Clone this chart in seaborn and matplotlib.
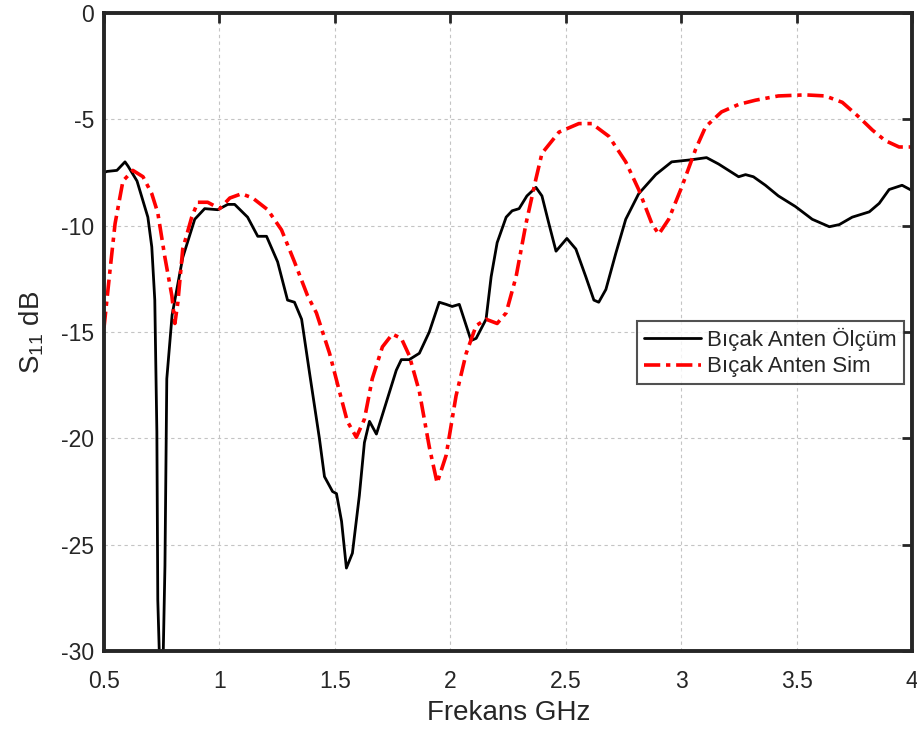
import matplotlib
matplotlib.use("Agg")
import matplotlib.pyplot as plt
import seaborn as sns
import pandas as pd

# Measured S11 of the blade antenna
freq_meas = [0.500, 0.513, 0.556, 0.591, 0.604, 0.643, 0.690, 0.707, 0.720, 0.729,
             0.733, 0.742, 0.755, 0.764, 0.772, 0.795, 0.841, 0.893, 0.936, 0.993,
             1.036, 1.066, 1.122, 1.166, 1.204, 1.252, 1.295, 1.325, 1.356, 1.390,
             1.433, 1.455, 1.490, 1.507, 1.529, 1.550, 1.576, 1.606, 1.628, 1.650,
             1.680, 1.723, 1.766, 1.788, 1.822, 1.866, 1.909, 1.952, 1.982, 2.008,
             2.039, 2.090, 2.112, 2.155, 2.177, 2.203, 2.242, 2.268, 2.298, 2.332,
             2.371, 2.397, 2.427, 2.458, 2.505, 2.544, 2.587, 2.622, 2.643, 2.674,
             2.717, 2.760, 2.816, 2.890, 2.959, 3.045, 3.110, 3.162, 3.249, 3.279,
             3.313, 3.365, 3.421, 3.495, 3.568, 3.642, 3.685, 3.741, 3.815, 3.858,
             3.901, 3.957, 4.000]
s11_meas = [-7.5, -7.45, -7.4, -7.0, -7.2, -7.9, -9.6, -11.0, -13.5, -19.7,
            -27.6, -31.0, -31.0, -26.0, -17.2, -14.2, -11.5, -9.7, -9.2, -9.25,
            -9.0, -9.0, -9.6, -10.5, -10.5, -11.7, -13.5, -13.6, -14.4, -16.9,
            -20.0, -21.8, -22.5, -22.6, -23.9, -26.1, -25.4, -22.7, -20.2, -19.2,
            -19.8, -18.3, -16.8, -16.3, -16.3, -16.0, -15.0, -13.6, -13.7, -13.8,
            -13.7, -15.4, -15.3, -14.4, -12.4, -10.8, -9.6, -9.3, -9.2, -8.6,
            -8.2, -8.6, -9.9, -11.2, -10.6, -11.1, -12.4, -13.5, -13.6, -13.0,
            -11.3, -9.7, -8.5, -7.6, -7.0, -6.9, -6.8, -7.1, -7.7, -7.6,
            -7.7, -8.1, -8.6, -9.1, -9.7, -10.05, -9.95, -9.6, -9.35, -8.95,
            -8.3, -8.1, -8.35]

# Simulated S11 of the blade antenna
freq_sim = [0.500, 0.526, 0.548, 0.582, 0.625, 0.669, 0.707, 0.733, 0.764, 0.794,
            0.807, 0.820, 0.841, 0.880, 0.906, 0.949, 1.001, 1.045, 1.096, 1.144,
            1.209, 1.269, 1.325, 1.382, 1.420, 1.477, 1.520, 1.554, 1.593, 1.628,
            1.662, 1.706, 1.749, 1.788, 1.822, 1.866, 1.909, 1.943, 1.982, 2.025,
            2.069, 2.112, 2.155, 2.203, 2.242, 2.285, 2.328, 2.371, 2.397, 2.471,
            2.557, 2.613, 2.687, 2.760, 2.816, 2.873, 2.903, 2.946, 3.002, 3.063,
            3.106, 3.175, 3.249, 3.322, 3.421, 3.538, 3.624, 3.698, 3.771, 3.828,
            3.884, 3.944, 4.000]
s11_sim = [-14.8, -12.1, -9.9, -7.9, -7.4, -7.7, -8.5, -9.4, -11.5, -13.3,
           -14.6, -13.6, -11.1, -9.6, -8.9, -8.9, -9.2, -8.7, -8.5, -8.7,
           -9.25, -10.2, -11.7, -13.3, -14.1, -16.0, -17.8, -19.2, -19.95, -19.1,
           -17.2, -15.7, -15.1, -15.3, -16.1, -17.8, -20.4, -22.1, -20.8, -18.0,
           -16.0, -14.7, -14.4, -14.6, -14.1, -12.4, -9.9, -7.8, -6.6, -5.6,
           -5.2, -5.2, -5.8, -7.0, -8.3, -9.9, -10.4, -9.7, -8.2, -6.4,
           -5.35, -4.65, -4.3, -4.1, -3.9, -3.85, -3.9, -4.2, -4.9, -5.5,
           -6.0, -6.3, -6.3]

series_names = ["Bıçak Anten Ölçüm", "Bıçak Anten Sim"]
x_ticks = [0.5, 1, 1.5, 2, 2.5, 3, 3.5, 4]
x_tick_labels = ["0.5", "1", "1.5", "2", "2.5", "3", "3.5", "4"]
y_ticks = [-30, -25, -20, -15, -10, -5, 0]
y_tick_labels = ["-30", "-25", "-20", "-15", "-10", "-5", "0"]

df_meas = pd.DataFrame({"f": freq_meas, "s11": s11_meas})
df_sim = pd.DataFrame({"f": freq_sim, "s11": s11_sim})

sns.set_theme(style="white")
plt.rcParams["font.family"] = ["Liberation Sans", "DejaVu Sans"]
plt.rcParams["mathtext.fontset"] = "custom"
plt.rcParams["mathtext.rm"] = "Liberation Sans"
plt.rcParams["mathtext.it"] = "Liberation Sans"

ink = "#262626"

fig = plt.figure(figsize=(9.17, 7.33), dpi=100)
ax = fig.add_axes([104 / 917, 82 / 733, 808 / 917, 638 / 733])

sns.lineplot(data=df_meas, x="f", y="s11", ax=ax, color="black", lw=2.0,
             sort=False, estimator=None, label=series_names[0])
sns.lineplot(data=df_sim, x="f", y="s11", ax=ax, color="#ff0000", lw=2.6,
             sort=False, estimator=None, label=series_names[1],
             linestyle=(0, (4.5, 1.6, 1.2, 1.6)))

ax.set_xlim(0.5, 4)
ax.set_ylim(-30, 0)
ax.set_xticks(x_ticks)
ax.set_xticklabels(x_tick_labels)
ax.set_yticks(y_ticks)
ax.set_yticklabels(y_tick_labels)

ax.grid(True, color="#c4c4c4", linestyle=(0, (3, 3)), linewidth=0.8)
for side in ["left", "right", "top", "bottom"]:
    ax.spines[side].set_visible(True)
    ax.spines[side].set_color(ink)
    ax.spines[side].set_linewidth(2.8)
ax.tick_params(direction="in", length=7, width=2.0, color=ink,
               top=True, right=True, labelsize=16.5, labelcolor=ink)
ax.tick_params(axis="x", pad=14)
ax.tick_params(axis="y", pad=7)

ax.set_xlabel("Frekans GHz", fontsize=20, color=ink)
ax.set_ylabel("$S_{11}$ dB", fontsize=20, color=ink)
ax.xaxis.set_label_coords(0.5006, -0.077)
ax.yaxis.set_label_coords(-0.072, 0.5)

leg = ax.legend(loc="upper left", bbox_to_anchor=(533 / 808, (651 - 321) / 638),
                fontsize=16, frameon=True, fancybox=False, handlelength=2.56,
                handletextpad=0.3, borderpad=0.3, labelspacing=0.25,
                borderaxespad=0)
leg.get_frame().set_edgecolor(ink)
leg.get_frame().set_linewidth(1.5)

fig.savefig("out.png", dpi=100)
